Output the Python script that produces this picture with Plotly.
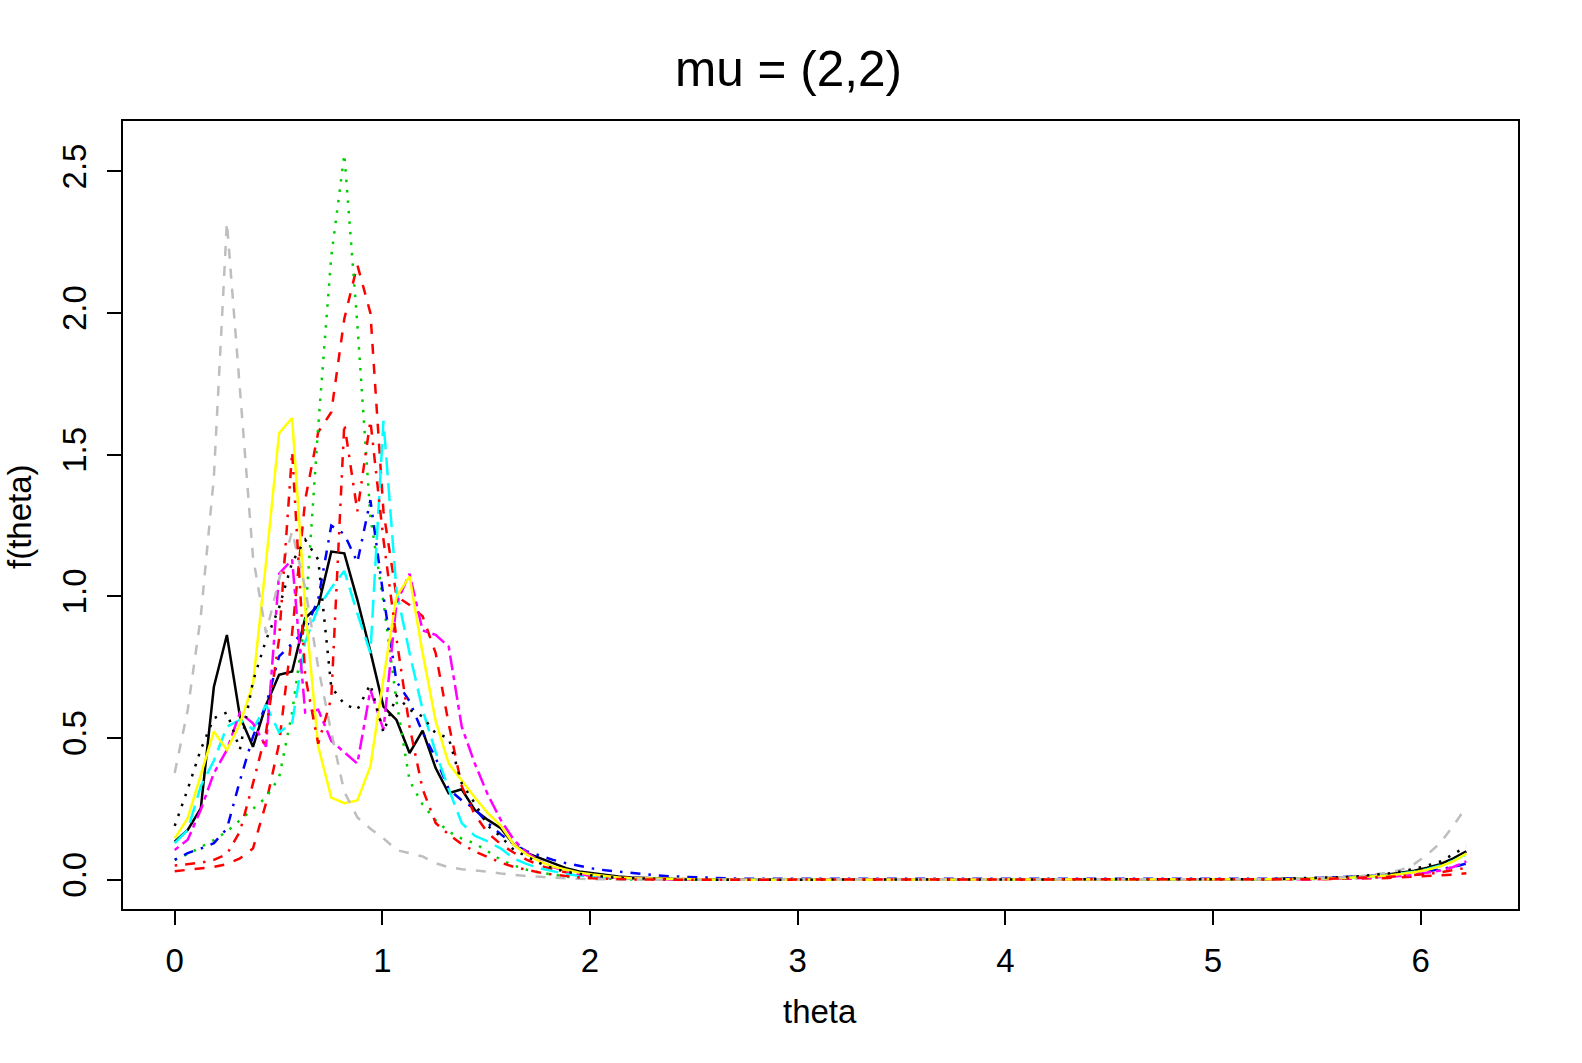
import math
import plotly.graph_objects as go

# grid of angles (100 equally spaced points on [0, 2*pi))
theta = [2 * math.pi * k / 100 for k in range(100)]

x_ticks = [0, 1, 2, 3, 4, 5, 6]
y_ticks = [0.0, 0.5, 1.0, 1.5, 2.0, 2.5]
y_tick_labels = ["0.0", "0.5", "1.0", "1.5", "2.0", "2.5"]

s1_black_solid = [
    0.134, 0.176, 0.252, 0.680, 0.864, 0.576, 0.469, 0.617, 0.723, 0.735,
    0.923, 0.966, 1.158, 1.152, 0.988, 0.805, 0.611, 0.564, 0.447, 0.526,
    0.394, 0.305, 0.319, 0.246, 0.211, 0.182, 0.123, 0.094, 0.076, 0.058,
    0.041, 0.029, 0.023, 0.015, 0.011, 0.008, 0.006, 0.004, 0.003, 0.002,
    0.002, 0.001, 0.001, 0.001, 0.001, 0.000, 0.000, 0.000, 0.000, 0.000,
    0.000, 0.000, 0.000, 0.000, 0.000, 0.000, 0.000, 0.000, 0.000, 0.000,
    0.000, 0.000, 0.000, 0.000, 0.000, 0.000, 0.000, 0.000, 0.000, 0.000,
    0.000, 0.000, 0.000, 0.000, 0.000, 0.000, 0.000, 0.001, 0.001, 0.001,
    0.001, 0.001, 0.002, 0.002, 0.002, 0.003, 0.003, 0.004, 0.005, 0.007,
    0.009, 0.011, 0.014, 0.018, 0.024, 0.032, 0.042, 0.055, 0.075, 0.100,
]

s2_red_dashed = [
    0.030, 0.035, 0.040, 0.045, 0.055, 0.075, 0.110, 0.270, 0.480, 0.870,
    1.340, 1.580, 1.650, 1.980, 2.170, 2.000, 1.300, 1.000, 0.970, 0.930,
    0.800, 0.550, 0.330, 0.230, 0.165, 0.125, 0.095, 0.070, 0.050, 0.036,
    0.026, 0.019, 0.014, 0.010, 0.007, 0.005, 0.004, 0.003, 0.002, 0.001,
    0.001, 0.001, 0.000, 0.000, 0.000, 0.000, 0.000, 0.000, 0.000, 0.000,
    0.000, 0.000, 0.000, 0.000, 0.000, 0.000, 0.000, 0.000, 0.000, 0.000,
    0.000, 0.000, 0.000, 0.000, 0.000, 0.000, 0.000, 0.000, 0.000, 0.000,
    0.000, 0.000, 0.000, 0.000, 0.000, 0.000, 0.000, 0.000, 0.000, 0.000,
    0.000, 0.001, 0.001, 0.001, 0.001, 0.001, 0.002, 0.002, 0.002, 0.003,
    0.003, 0.004, 0.005, 0.006, 0.008, 0.010, 0.012, 0.015, 0.018, 0.023,
]

s3_green_dotted = [
    0.070, 0.090, 0.115, 0.140, 0.170, 0.210, 0.250, 0.290, 0.360, 0.590,
    0.920, 1.600, 2.200, 2.560, 1.960, 1.280, 0.980, 0.630, 0.350, 0.265,
    0.210, 0.170, 0.145, 0.128, 0.100, 0.070, 0.050, 0.035, 0.025, 0.017,
    0.011, 0.007, 0.005, 0.003, 0.002, 0.001, 0.001, 0.000, 0.000, 0.000,
    0.000, 0.000, 0.000, 0.000, 0.000, 0.000, 0.000, 0.000, 0.000, 0.000,
    0.000, 0.000, 0.000, 0.000, 0.000, 0.000, 0.000, 0.000, 0.000, 0.000,
    0.000, 0.000, 0.000, 0.000, 0.000, 0.000, 0.000, 0.000, 0.000, 0.000,
    0.000, 0.000, 0.000, 0.000, 0.000, 0.000, 0.000, 0.000, 0.000, 0.000,
    0.000, 0.000, 0.001, 0.001, 0.001, 0.001, 0.002, 0.002, 0.003, 0.004,
    0.005, 0.006, 0.008, 0.011, 0.015, 0.020, 0.026, 0.034, 0.045, 0.057,
]

s4_blue_dotdash = [
    0.070, 0.094, 0.110, 0.129, 0.180, 0.350, 0.505, 0.617, 0.788, 0.835,
    0.880, 0.990, 1.250, 1.220, 1.120, 1.340, 1.000, 0.700, 0.630, 0.520,
    0.430, 0.320, 0.280, 0.250, 0.200, 0.160, 0.125, 0.100, 0.085, 0.070,
    0.058, 0.048, 0.040, 0.033, 0.028, 0.023, 0.019, 0.015, 0.012, 0.010,
    0.008, 0.006, 0.005, 0.004, 0.003, 0.003, 0.002, 0.002, 0.002, 0.001,
    0.001, 0.001, 0.001, 0.001, 0.001, 0.001, 0.001, 0.001, 0.001, 0.001,
    0.001, 0.001, 0.001, 0.001, 0.001, 0.001, 0.001, 0.001, 0.001, 0.001,
    0.001, 0.001, 0.001, 0.001, 0.001, 0.001, 0.001, 0.002, 0.002, 0.002,
    0.002, 0.002, 0.003, 0.003, 0.004, 0.004, 0.005, 0.006, 0.007, 0.008,
    0.010, 0.012, 0.014, 0.017, 0.020, 0.024, 0.029, 0.036, 0.045, 0.057,
]

s5_cyan_longdash = [
    0.129, 0.176, 0.330, 0.420, 0.540, 0.564, 0.530, 0.617, 0.520, 0.553,
    0.840, 0.960, 1.030, 1.090, 0.940, 0.800, 1.620, 1.020, 0.800, 0.600,
    0.450, 0.320, 0.200, 0.155, 0.135, 0.110, 0.075, 0.055, 0.040, 0.030,
    0.020, 0.014, 0.010, 0.007, 0.005, 0.004, 0.003, 0.002, 0.001, 0.001,
    0.000, 0.000, 0.000, 0.000, 0.000, 0.000, 0.000, 0.000, 0.000, 0.000,
    0.000, 0.000, 0.000, 0.000, 0.000, 0.000, 0.000, 0.000, 0.000, 0.000,
    0.000, 0.000, 0.000, 0.000, 0.000, 0.000, 0.000, 0.000, 0.000, 0.000,
    0.000, 0.000, 0.000, 0.000, 0.000, 0.000, 0.000, 0.000, 0.001, 0.001,
    0.001, 0.001, 0.001, 0.002, 0.002, 0.002, 0.003, 0.003, 0.004, 0.005,
    0.007, 0.009, 0.012, 0.016, 0.021, 0.028, 0.037, 0.050, 0.067, 0.090,
]

s6_magenta_twodash = [
    0.105, 0.141, 0.247, 0.376, 0.458, 0.590, 0.552, 0.470, 1.080, 1.130,
    0.590, 0.600, 0.490, 0.450, 0.410, 0.670, 0.530, 0.976, 1.080, 0.880,
    0.864, 0.823, 0.540, 0.410, 0.300, 0.210, 0.140, 0.095, 0.065, 0.045,
    0.030, 0.020, 0.014, 0.010, 0.007, 0.005, 0.003, 0.002, 0.001, 0.001,
    0.000, 0.000, 0.000, 0.000, 0.000, 0.000, 0.000, 0.000, 0.000, 0.000,
    0.000, 0.000, 0.000, 0.000, 0.000, 0.000, 0.000, 0.000, 0.000, 0.000,
    0.000, 0.000, 0.000, 0.000, 0.000, 0.000, 0.000, 0.000, 0.000, 0.000,
    0.000, 0.000, 0.000, 0.000, 0.000, 0.000, 0.000, 0.000, 0.000, 0.000,
    0.001, 0.001, 0.001, 0.001, 0.001, 0.002, 0.002, 0.002, 0.003, 0.003,
    0.004, 0.006, 0.008, 0.010, 0.013, 0.018, 0.024, 0.032, 0.045, 0.065,
]

s7_yellow_solid = [
    0.146, 0.217, 0.370, 0.523, 0.458, 0.550, 0.690, 1.120, 1.576, 1.629,
    0.960, 0.470, 0.290, 0.270, 0.280, 0.400, 0.710, 1.000, 1.070, 0.800,
    0.560, 0.410, 0.350, 0.290, 0.235, 0.190, 0.123, 0.088, 0.064, 0.046,
    0.035, 0.025, 0.018, 0.012, 0.008, 0.005, 0.004, 0.003, 0.002, 0.001,
    0.001, 0.000, 0.000, 0.000, 0.000, 0.000, 0.000, 0.000, 0.000, 0.000,
    0.000, 0.000, 0.000, 0.000, 0.000, 0.000, 0.000, 0.000, 0.000, 0.000,
    0.000, 0.000, 0.000, 0.000, 0.000, 0.000, 0.000, 0.000, 0.000, 0.000,
    0.000, 0.000, 0.000, 0.000, 0.000, 0.000, 0.000, 0.000, 0.001, 0.001,
    0.001, 0.001, 0.001, 0.002, 0.002, 0.002, 0.003, 0.003, 0.004, 0.005,
    0.007, 0.009, 0.012, 0.015, 0.020, 0.026, 0.035, 0.047, 0.065, 0.092,
]

s8_gray_dashed = [
    0.377, 0.600, 0.930, 1.420, 2.320, 1.740, 1.140, 0.870, 1.060, 1.230,
    1.030, 0.750, 0.520, 0.310, 0.220, 0.180, 0.146, 0.105, 0.094, 0.082,
    0.058, 0.044, 0.037, 0.033, 0.028, 0.022, 0.017, 0.013, 0.010, 0.007,
    0.005, 0.003, 0.002, 0.001, 0.001, 0.000, 0.000, 0.000, 0.000, 0.000,
    0.000, 0.000, 0.000, 0.000, 0.000, 0.000, 0.000, 0.000, 0.000, 0.000,
    0.000, 0.000, 0.000, 0.000, 0.000, 0.000, 0.000, 0.000, 0.000, 0.000,
    0.000, 0.000, 0.000, 0.000, 0.000, 0.000, 0.000, 0.000, 0.000, 0.000,
    0.000, 0.000, 0.000, 0.000, 0.000, 0.000, 0.000, 0.000, 0.000, 0.001,
    0.001, 0.001, 0.001, 0.001, 0.002, 0.002, 0.003, 0.004, 0.005, 0.007,
    0.009, 0.013, 0.018, 0.025, 0.035, 0.055, 0.088, 0.130, 0.190, 0.258,
]

s9_black_dotted = [
    0.190, 0.320, 0.460, 0.570, 0.590, 0.460, 0.700, 0.846, 0.960, 1.120,
    1.200, 1.130, 0.680, 0.620, 0.600, 0.690, 0.520, 0.650, 0.600, 0.576,
    0.517, 0.500, 0.340, 0.270, 0.190, 0.152, 0.105, 0.082, 0.058, 0.040,
    0.028, 0.020, 0.014, 0.010, 0.007, 0.005, 0.003, 0.002, 0.001, 0.001,
    0.000, 0.000, 0.000, 0.000, 0.000, 0.000, 0.000, 0.000, 0.000, 0.000,
    0.000, 0.000, 0.000, 0.000, 0.000, 0.000, 0.000, 0.000, 0.000, 0.000,
    0.000, 0.000, 0.000, 0.000, 0.000, 0.000, 0.000, 0.000, 0.000, 0.000,
    0.000, 0.000, 0.000, 0.000, 0.000, 0.000, 0.000, 0.001, 0.001, 0.001,
    0.001, 0.001, 0.002, 0.002, 0.002, 0.003, 0.004, 0.005, 0.006, 0.008,
    0.010, 0.013, 0.017, 0.022, 0.029, 0.038, 0.050, 0.064, 0.090, 0.117,
]

s10_red_dotdash = [
    0.050, 0.055, 0.060, 0.070, 0.090, 0.170, 0.340, 0.520, 0.850, 1.510,
    0.720, 0.480, 0.640, 1.610, 1.300, 1.620, 1.200, 0.850, 0.540, 0.320,
    0.200, 0.160, 0.125, 0.100, 0.080, 0.060, 0.045, 0.035, 0.025, 0.018,
    0.012, 0.008, 0.005, 0.003, 0.002, 0.001, 0.001, 0.000, 0.000, 0.000,
    0.000, 0.000, 0.000, 0.000, 0.000, 0.000, 0.000, 0.000, 0.000, 0.000,
    0.000, 0.000, 0.000, 0.000, 0.000, 0.000, 0.000, 0.000, 0.000, 0.000,
    0.000, 0.000, 0.000, 0.000, 0.000, 0.000, 0.000, 0.000, 0.000, 0.000,
    0.000, 0.000, 0.000, 0.000, 0.000, 0.000, 0.000, 0.000, 0.000, 0.000,
    0.001, 0.001, 0.001, 0.001, 0.001, 0.002, 0.002, 0.002, 0.003, 0.004,
    0.005, 0.006, 0.008, 0.010, 0.013, 0.016, 0.020, 0.026, 0.033, 0.042,
]

series = [
    (s1_black_solid, "#000000", "solid"),
    (s2_red_dashed, "#FF0000", "10px,10px"),
    (s3_green_dotted, "#00CD00", "2.5px,8px"),
    (s4_blue_dotdash, "#0000FF", "2.5px,8px,10px,8px"),
    (s5_cyan_longdash, "#00FFFF", "18px,8px"),
    (s6_magenta_twodash, "#FF00FF", "5px,5px,15px,5px"),
    (s7_yellow_solid, "#FFFF00", "solid"),
    (s8_gray_dashed, "#BEBEBE", "10px,10px"),
    (s9_black_dotted, "#000000", "2.5px,8px"),
    (s10_red_dotdash, "#FF0000", "2.5px,8px,10px,8px"),
]

fig = go.Figure()
for ys, col, dash in series:
    fig.add_trace(go.Scatter(
        x=theta, y=ys, mode="lines",
        line=dict(color=col, width=2.5, dash=dash),
        showlegend=False, hoverinfo="skip",
    ))

FONT = "Liberation Sans, Arial, Helvetica, sans-serif"

fig.update_layout(
    width=1582, height=1063,
    margin=dict(l=123, r=64, t=121, b=154),
    paper_bgcolor="white", plot_bgcolor="white",
    font=dict(family=FONT, size=33, color="black"),
    showlegend=False,
)
fig.update_xaxes(
    range=[-0.249, 6.469], tickvals=x_ticks, ticktext=[str(t) for t in x_ticks],
    showgrid=False, zeroline=False, showline=True, mirror=True,
    linecolor="black", linewidth=1.5, ticks="outside", ticklen=14,
    tickwidth=1.5, tickcolor="black", ticklabelstandoff=8,
    tickfont=dict(family=FONT, size=33, color="black"),
)
fig.update_yaxes(
    range=[-0.1034, 2.678], tickvals=y_ticks, ticktext=y_tick_labels,
    tickangle=-90,
    showgrid=False, zeroline=False, showline=True, mirror=True,
    linecolor="black", linewidth=1.5, ticks="outside", ticklen=14,
    tickwidth=1.5, tickcolor="black", ticklabelstandoff=8,
    tickfont=dict(family=FONT, size=33, color="black"),
)

plot_h = 1063 - 121 - 154
plot_w = 1582 - 123 - 64
fig.add_annotation(
    text="mu = (2,2)", xref="paper", yref="paper",
    x=(788 - 123) / plot_w, y=1 + (121 - 68) / plot_h,
    showarrow=False, xanchor="center", yanchor="middle",
    font=dict(family=FONT, size=49.5, color="black"),
)
fig.add_annotation(
    text="theta", xref="paper", yref="paper",
    x=(820 - 123) / plot_w, y=-(1012 - 909) / plot_h,
    showarrow=False, xanchor="center", yanchor="middle",
    font=dict(family=FONT, size=33, color="black"),
)
fig.add_annotation(
    text="f(theta)", xref="paper", yref="paper",
    x=(19 - 123) / plot_w, y=(909 - 516) / plot_h,
    showarrow=False, xanchor="center", yanchor="middle", textangle=-90,
    font=dict(family=FONT, size=33, color="black"),
)

fig.write_html("out.html")
